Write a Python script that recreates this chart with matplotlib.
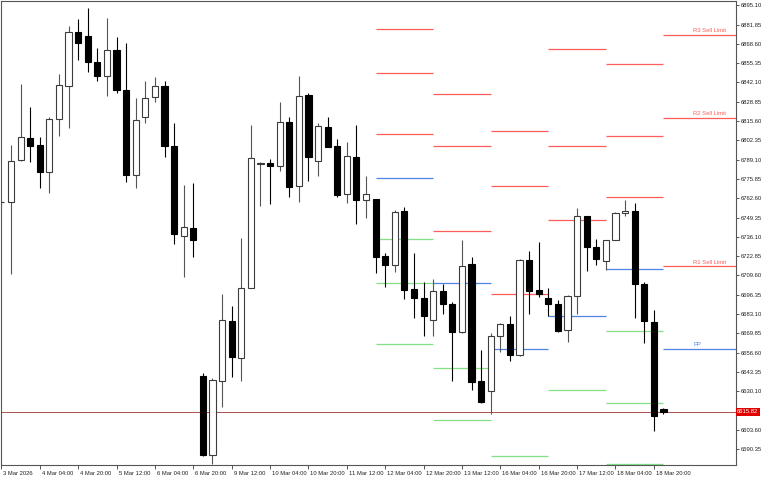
import numpy as np
import matplotlib
matplotlib.use("Agg")
import matplotlib.pyplot as plt
import matplotlib.transforms as mtransforms

# H4 candles, 3 Mar 2026 12:00 .. 19 Mar 2026 00:00 (index 0..69)
opens = [
    6759.70, 6760.00, 6788.85, 6803.96, 6799.15, 6780.61, 6817.01, 6839.67, 6876.76, 6874.01,
    6856.16, 6846.54, 6864.40, 6836.93, 6778.55, 6818.38, 6832.12, 6839.67, 6798.47, 6736.65,
    6742.15, 6640.50, 6586.24, 6637.07, 6678.27, 6652.86, 6700.94, 6786.00, 6787.00, 6784.73,
    6814.95, 6770.99, 6833.49, 6788.16, 6811.52, 6798.47, 6765.50, 6790.91, 6761.38, 6762.07,
    6722.92, 6716.74, 6753.82, 6700.25, 6694.07, 6678.96, 6698.88, 6689.95, 6670.72, 6717.42,
    6637.07, 6630.20, 6667.97, 6676.21, 6654.92, 6720.17, 6699.57, 6694.07, 6689.95, 6672.09,
    6695.44, 6750.39, 6729.10, 6719.48, 6733.91, 6752.45, 6753.82, 6703.69, 6677.59, 6617.83,
]
highs = [
    6761.40, 6799.15, 6841.05, 6825.25, 6804.65, 6818.38, 6847.92, 6880.88, 6885.69, 6893.25,
    6865.77, 6886.38, 6873.33, 6869.21, 6831.43, 6843.11, 6845.86, 6843.11, 6814.26, 6771.68,
    6773.05, 6642.56, 6639.13, 6696.82, 6688.58, 6735.28, 6812.89, 6787.30, 6789.74, 6828.69,
    6818.38, 6846.54, 6834.87, 6814.26, 6818.38, 6803.27, 6801.21, 6812.89, 6777.86, 6762.30,
    6724.98, 6754.51, 6756.57, 6724.98, 6705.06, 6707.12, 6703.69, 6691.32, 6733.91, 6722.23,
    6658.36, 6670.03, 6676.90, 6681.71, 6720.86, 6726.35, 6732.53, 6700.94, 6692.70, 6696.13,
    6755.88, 6750.60, 6734.59, 6734.20, 6752.80, 6761.38, 6759.32, 6705.06, 6685.83, 6618.20,
]
lows = [
    6758.00, 6710.55, 6788.50, 6787.48, 6769.62, 6766.19, 6805.33, 6810.83, 6857.53, 6849.29,
    6843.11, 6832.81, 6834.87, 6773.74, 6769.62, 6814.26, 6828.69, 6790.91, 6731.16, 6708.49,
    6722.23, 6585.55, 6580.06, 6619.21, 6639.81, 6637.07, 6700.60, 6757.26, 6758.63, 6781.30,
    6763.44, 6760.00, 6774.43, 6777.86, 6797.50, 6763.44, 6759.32, 6744.89, 6749.02, 6711.24,
    6701.63, 6711.93, 6693.38, 6680.33, 6667.97, 6667.97, 6683.08, 6637.07, 6670.03, 6630.88,
    6621.96, 6614.40, 6656.98, 6650.80, 6654.24, 6683.08, 6694.76, 6681.71, 6671.00, 6663.85,
    6683.08, 6712.61, 6716.74, 6713.30, 6733.60, 6750.39, 6680.33, 6663.16, 6602.72, 6614.40,
]
closes = [
    6760.00, 6788.16, 6804.65, 6798.47, 6780.61, 6817.01, 6840.36, 6876.76, 6869.21, 6856.16,
    6846.54, 6864.40, 6836.93, 6778.55, 6816.32, 6831.43, 6839.67, 6798.47, 6738.03, 6742.83,
    6733.91, 6586.24, 6637.75, 6678.96, 6653.55, 6700.94, 6790.22, 6786.80, 6784.52, 6814.95,
    6770.31, 6832.81, 6790.91, 6812.20, 6797.78, 6764.81, 6791.60, 6761.38, 6765.50, 6722.23,
    6716.74, 6753.14, 6699.57, 6694.07, 6681.71, 6698.88, 6689.95, 6670.72, 6716.05, 6636.38,
    6622.64, 6667.97, 6676.21, 6654.92, 6720.17, 6698.88, 6696.82, 6689.95, 6671.41, 6695.44,
    6750.39, 6729.10, 6720.86, 6733.91, 6752.45, 6753.82, 6703.69, 6678.27, 6613.03, 6615.82,
]
last_price = 6615.82

tick_idx = [0, 4, 8, 12, 16, 20, 24, 28, 32, 36, 40, 44, 48, 52, 56, 60, 64, 68]
tick_labels = [
    "3 Mar 2026", "4 Mar 04:00", "4 Mar 20:00", "5 Mar 12:00", "6 Mar 04:00",
    "6 Mar 20:00", "9 Mar 12:00", "10 Mar 04:00", "10 Mar 20:00", "11 Mar 12:00",
    "12 Mar 04:00", "12 Mar 20:00", "13 Mar 12:00", "16 Mar 04:00", "16 Mar 20:00",
    "17 Mar 12:00", "18 Mar 04:00", "18 Mar 20:00",
]
price_ticks = [
    6895.10, 6881.85, 6868.60, 6855.35, 6842.10, 6828.85, 6815.60, 6802.35,
    6789.10, 6775.85, 6762.60, 6749.35, 6736.10, 6722.85, 6709.60, 6696.35,
    6683.10, 6669.85, 6656.60, 6643.35, 6630.10, 6603.60, 6590.35,
]

# daily pivot levels, one entry per day (day starts at candle pivot_start)
nan = np.nan
pivot_start = [39, 45, 51, 57, 63, 69]
r3 = [6878.82, 6833.97, 6808.56, 6865.29, 6854.58, 6874.70]
r2 = [6848.60, 6798.47, 6770.99, 6798.67, 6805.13, 6817.90]
r1 = [6806.91, 6740.09, 6696.61, 6747.85, 6763.23, 6715.84]
pp = [6776.28, 6704.17, 6659.25, 6681.71, 6713.78, 6659.25]
s1 = [6734.80, 6645.99, 6585.35, 6630.68, 6671.61, nan]
s2 = [6704.17, 6610.07, nan, nan, 6621.75, nan]
s3 = [6662.48, nan, nan, nan, 6580.06, nan]

RED, BLUE, GREEN = "#ff5c5c", "#4f84e6", "#84e084"
FRAME = "#555555"
FONT = "Liberation Sans"

fig = plt.figure(figsize=(7.68, 4.80), dpi=100)
ax = fig.add_axes([1 / 768, 15 / 480, 735 / 768, 464 / 480])
ax.set_xlim(-0.04, 76.56)
ax.set_ylim(6579.37, 6898.05)

x = np.arange(len(opens))
o, h, l, c = map(np.asarray, (opens, highs, lows, closes))
up = c >= o

# wicks
ax.vlines(x[up], l[up], h[up], color="#555555", lw=0.8, zorder=2)
ax.vlines(x[~up], l[~up], h[~up], color="black", lw=0.8, zorder=2)
# bodies
bottom = np.minimum(o, c)
height = np.maximum(np.abs(c - o), 0.3)
ax.bar(x[up], height[up], bottom=bottom[up], width=0.64,
       facecolor="white", edgecolor="#3c3c3c", lw=0.8, zorder=3)
ax.bar(x[~up], height[~up], bottom=bottom[~up], width=0.64,
       facecolor="black", edgecolor="black", lw=0.8, zorder=3)

# pivot segments
x_end = pivot_start[1:] + [ax.get_xlim()[1]]
levels = [(r3, RED), (r2, RED), (r1, RED), (pp, BLUE), (s1, GREEN), (s2, GREEN), (s3, GREEN)]
for d, (xs, xe) in enumerate(zip(pivot_start, x_end)):
    for vals, col in levels:
        if not np.isnan(vals[d]):
            ax.hlines(vals[d], xs, xe, color=col, lw=0.9, zorder=1)

lbl_x = 72.1
for name, vals, col in [("R3 Sell Limit", r3, RED), ("R2 Sell Limit", r2, RED),
                        ("R1 Sell Limit", r1, RED), ("PP", pp, BLUE)]:
    ax.text(lbl_x, vals[-1] + 1.2, name, color=col, fontsize=4.2,
            family=FONT, ha="left", va="bottom")

# current price line + label box on the price scale
ax.axhline(last_price, color="#b05454", lw=0.72, zorder=1)
trans = mtransforms.blended_transform_factory(ax.transAxes, ax.transData)
ax.text(1.0015, last_price, f"{last_price:.2f}", transform=trans, color="white",
        fontsize=4.2, family=FONT, ha="left", va="center", zorder=5,
        bbox=dict(boxstyle="square,pad=0.22", fc="#e00000", ec="none"))

# axes styling
for side in ("left", "right", "top", "bottom"):
    ax.spines[side].set_color(FRAME)
    ax.spines[side].set_linewidth(0.8)

ax.yaxis.tick_right()
ax.set_yticks(price_ticks)
ax.set_yticklabels([f"{v:.2f}" for v in price_ticks])
ax.tick_params(axis="y", direction="out", length=2.5, width=0.7, color=FRAME,
               pad=1, labelsize=4.2, labelcolor="#222222")

ax.set_xticks(tick_idx)
ax.set_xticklabels(tick_labels)
ax.tick_params(axis="x", direction="out", length=2.8, width=0.7, color=FRAME,
               pad=1.2, labelsize=4.2, labelcolor="#222222")
shift = mtransforms.ScaledTranslation(0.02, 0, fig.dpi_scale_trans)
for lab in ax.get_xticklabels():
    lab.set_horizontalalignment("left")
    lab.set_transform(lab.get_transform() + shift)
for lab in ax.get_xticklabels() + ax.get_yticklabels():
    lab.set_family(FONT)

fig.savefig("out.png", dpi=100, facecolor="white")
